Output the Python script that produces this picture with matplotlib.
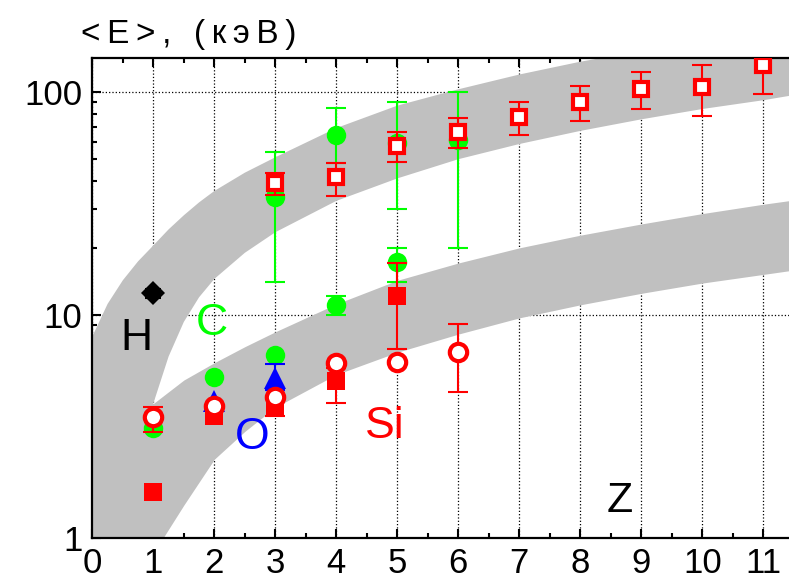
import numpy as np
import matplotlib
matplotlib.use("Agg")
import matplotlib.pyplot as plt
from matplotlib.ticker import MultipleLocator, FixedLocator, LogLocator, NullFormatter

plt.rcParams['font.family'] = ['Liberation Sans', 'DejaVu Sans']

# gray bands (edges)
up_x = [0, 0.25, 0.5, 0.75, 1, 1.25, 1.5, 1.75, 2, 2.5, 3, 4, 5, 6, 7, 8, 9, 10, 11, 11.5]
up_hi = [8, 11.2, 14.3, 17.4, 20.5, 24.2, 28, 32, 36, 43.5, 51, 69, 87, 103, 120, 137, 153, 170, 186, 195]
up_lo = [0.2, 0.35, 0.7, 2.0, 4.0, 6.5, 9.3, 12.0, 14.5, 19.0, 23.5, 32.5, 41, 50, 58.5, 67, 75.5, 84, 92, 97]

low_x = [0, 0.5, 0.75, 1, 1.5, 2, 2.5, 3, 4, 5, 6, 7, 8, 9, 10, 11, 11.5]
low_hi = [1.2, 2.6, 3.3, 4.0, 5.1, 6.1, 7.2, 8.4, 11.2, 14.3, 17.1, 20.0, 22.8, 25.6, 28.5, 31.4, 32.8]
low_lo = [0.3, 0.55, 0.7, 0.85, 1.4, 2.25, 3.0, 3.85, 5.4, 6.8, 8.2, 9.7, 11.1, 12.5, 13.9, 15.2, 15.9]

nan = np.nan

# upper group
c_up_z = [3, 4, 5, 6]
c_up_e = [34, 64, 59, 61]
c_up_lo = [14.0, 48, 30, 20]
c_up_hi = [54, 85, 90, 100]

si_up_z = [3, 4, 5, 6, 7, 8, 9, 10, 11]
si_up_e = [39, 41.5, 57.5, 66.5, 77, 90, 103, 105, 132]
si_up_lo = [34.6, 34.3, 48.5, 56, 64, 74, 84, 78.5, 98]
si_up_hi = [43.3, 48.3, 66, 76.5, 90, 107, 123, 132, 175]

# lower group
c_lo_z = [1, 2, 3, 4, 5]
c_lo_e = [3.1, 5.25, 6.6, 11.1, 17.2]
c_lo_lo = [nan, nan, nan, 10.0, 14.0]
c_lo_hi = [nan, nan, nan, 12.1, 20.0]

o_z = [2, 3]
o_e = [4.1, 5.2]
o_lo = [nan, 4.6]
o_hi = [nan, 6.05]

si_sq_z = [1, 2, 3, 4, 5]
si_sq_e = [1.61, 3.5, 3.9, 5.05, 12.1]
si_sq_lo = [nan, nan, 3.52, 4.04, 7.0]
si_sq_hi = [nan, nan, 4.3, 5.8, 17.1]

si_ci_z = [1, 2, 3, 4, 5, 6]
si_ci_e = [3.47, 3.9, 4.3, 6.07, 6.17, 6.85]
si_ci_lo = [2.97, nan, nan, nan, nan, 4.53]
si_ci_hi = [3.85, nan, nan, nan, nan, 9.1]

h_z = [1]
h_e = [12.5]
h_lo = [11.9]
h_hi = [13.1]

fig = plt.figure(figsize=(7.89, 5.8), dpi=100)
ax = fig.add_axes([0.117, 0.073, 0.883, 0.8266])
ax.set_yscale('log')
ax.set_xlim(0, 11.42)
ax.set_ylim(1, 142)

ax.set_axisbelow(True)
ax.grid(True, which='major', color='black', linestyle=':', linewidth=0.9)

ax.fill_between(up_x, up_lo, up_hi, color='#c0c0c0', lw=0, zorder=1)
ax.fill_between(low_x, low_lo, low_hi, color='#c0c0c0', lw=0, zorder=1)


def draw(z, e, lo, hi, color, marker, ms, mfc, mew, zo, cap=7):
    z, e, lo, hi = map(np.asarray, (z, e, lo, hi))
    has = ~np.isnan(lo)
    if has.any():
        ax.errorbar(z[has], e[has], yerr=[e[has] - lo[has], hi[has] - e[has]],
                    fmt='none', ecolor=color, elinewidth=1.5, capsize=cap,
                    capthick=1.5, zorder=zo)
    ax.plot(z, e, ls='none', marker=marker, ms=ms, mfc=mfc, mec=color,
            mew=mew, zorder=zo + 0.1)


draw(c_up_z, c_up_e, c_up_lo, c_up_hi, '#00ff00', 'o', 14, '#00ff00', 0, 3)
draw(si_up_z, si_up_e, si_up_lo, si_up_hi, 'red', 's', 10, 'white', 3, 4)

draw(c_lo_z, c_lo_e, c_lo_lo, c_lo_hi, '#00ff00', 'o', 14, '#00ff00', 0, 3)
draw(o_z, o_e, o_lo, o_hi, 'blue', '^', 16, 'blue', 0, 3.5)
draw(si_sq_z, si_sq_e, si_sq_lo, si_sq_hi, 'red', 's', 13.5, 'red', 0, 4)
draw(si_ci_z, si_ci_e, si_ci_lo, si_ci_hi, 'red', 'o', 12.5, 'white', 3, 4.5)
draw(h_z, h_e, h_lo, h_hi, 'black', 'D', 12, 'black', 0, 5, cap=6)

# element labels
ax.text(0.72, 6.96, 'H', color='black', fontsize=32, ha='center', va='baseline')
ax.text(1.96, 8.1, 'C', color='#00ff00', fontsize=32, ha='center', va='baseline')
ax.text(2.62, 2.5, 'O', color='blue', fontsize=32, ha='center', va='baseline')
ax.text(4.80, 2.8, 'Si', color='red', fontsize=32, ha='center', va='baseline')
ax.text(8.65, 1.30, 'Z', color='black', fontsize=31, ha='center', va='baseline')

fig.text(0.103, 0.926, '\u2009'.join('<E>, (кэВ)'), fontsize=24, ha='left', va='baseline')

# axes styling
ax.spines['right'].set_visible(False)
for s in ('left', 'bottom', 'top'):
    ax.spines[s].set_linewidth(1.6)

ax.xaxis.set_major_locator(MultipleLocator(1))
ax.xaxis.set_minor_locator(MultipleLocator(0.5))
ax.yaxis.set_major_locator(FixedLocator([1, 10, 100]))
ax.set_yticklabels(['1', '10', '100'])
ax.yaxis.set_minor_locator(LogLocator(base=10, subs=np.arange(2, 10)))
ax.yaxis.set_minor_formatter(NullFormatter())

ax.tick_params(which='both', direction='in', top=True, right=False, width=1.5)
ax.tick_params(which='major', length=6.5, labelsize=25, pad=7)
ax.tick_params(which='minor', length=3.5)

fig.savefig('out.png', dpi=100)
